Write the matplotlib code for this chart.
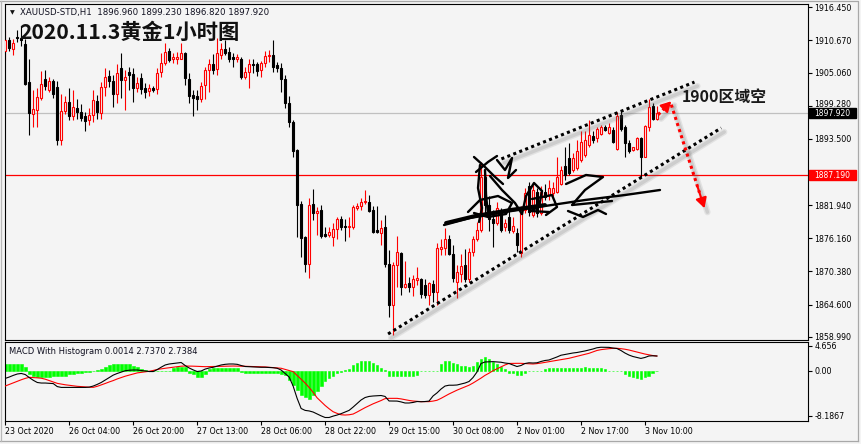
import matplotlib
matplotlib.use("Agg")
import matplotlib.pyplot as plt
import matplotlib.transforms as mtransforms
from matplotlib.patches import Rectangle
from matplotlib.lines import Line2D
import numpy as np

plt.rcParams['font.family'] = ['DejaVu Sans']

W, H = 861, 444
BG = '#f4f4f4'

# ---------------- data (H1 candles, bar index 0 = 23 Oct 2020) ----------------
opens = [1908.8,1910.7,1909.2,1911.2,1911.1,1910.0,1903.4,1897.8,1898.5,1900.7,
 1903.9,1902.0,1903.6,1902.6,1893.3,1898.4,1900.0,1897.4,1898.9,1898.1,
 1897.4,1896.8,1897.66,1900.1,1897.96,1902.6,1904.5,1903.6,1901.4,1905.8,
 1903.8,1905.1,1904.8,1902.3,1904.1,1902.4,1901.8,1902.3,1902.2,1905.1,
 1906.7,1908.8,1907.4,1907.4,1907.5,1908.4,1903.9,1901.2,1900.9,1900.4,
 1902.9,1905.5,1906.5,1905.7,1908.2,1909.2,1908.7,1907.8,1907.5,1907.4,
 1904.3,1905.2,1906.6,1906.5,1905.5,1906.7,1908.0,1908.2,1906.3,1905.9,
 1903.9,1899.7,1896.5,1891.6,1882.1,1876.3,1871.6,1882.1,1880.5,1881.0,
 1876.9,1876.7,1876.3,1877.7,1879.5,1878.3,1878.1,1878.2,1881.4,1881.7,
 1882.4,1882.5,1881.1,1877.6,1877.1,1878.1,1871.7,1864.5,1871.5,1873.6,
 1867.7,1868.3,1867.6,1868.9,1869.0,1868.0,1866.3,1868.2,1866.8,1874.2,
 1874.4,1876.0,1873.4,1868.6,1869.9,1871.5,1869.0,1873.8,1876.0,1877.6,
 1886.9,1882.0,1879.5,1878.8,1880.8,1878.2,1879.9,1877.5,1877.0,1873.5,
 1881.1,1885.2,1880.2,1884.3,1880.5,1884.3,1883.7,1884.1,1884.3,1885.7,
 1888.7,1890.1,1888.1,1888.4,1889.8,1890.7,1892.4,1894.0,1893.6,1894.3,
 1895.6,1894.6,1895.0,1891.7,1897.7,1895.6,1892.7,1891.6,1891.7,1893.6,
 1890.4,1895.6,1899.2,1896.96]
highs = [1912.5,1911.3,1910.9,1912.5,1913.1,1911.0,1907.5,1902.0,1902.3,1905.3,
 1905.5,1904.3,1904.0,1903.6,1901.4,1900.9,1902.4,1902.0,1900.4,1899.6,
 1898.1,1898.9,1902.0,1901.2,1903.4,1905.9,1905.5,1904.6,1906.6,1908.5,
 1905.5,1906.1,1905.9,1904.2,1905.0,1903.2,1903.0,1902.8,1905.8,1908.5,
 1910.2,1909.4,1908.4,1908.6,1910.2,1908.6,1904.9,1902.0,1902.0,1903.5,
 1906.1,1907.5,1908.3,1911.1,1910.2,1910.7,1909.5,1908.4,1908.3,1907.7,
 1906.0,1907.5,1907.5,1906.9,1907.0,1908.8,1909.0,1910.7,1906.9,1906.7,
 1904.6,1900.9,1896.8,1891.7,1882.6,1876.6,1883.1,1884.8,1881.6,1882.0,
 1878.1,1878.2,1878.8,1879.9,1880.0,1879.5,1879.9,1882.0,1882.3,1883.1,
 1884.6,1883.7,1881.7,1881.7,1879.3,1880.2,1874.1,1872.0,1876.6,1873.8,
 1872.2,1869.4,1869.8,1871.2,1869.2,1869.0,1868.6,1868.8,1875.3,1876.1,
 1877.9,1876.8,1875.0,1871.5,1873.4,1874.2,1874.4,1876.6,1879.0,1889.5,
 1887.6,1883.5,1881.0,1882.5,1881.4,1879.5,1881.7,1879.9,1877.9,1881.7,
 1884.9,1886.0,1885.5,1884.9,1885.2,1885.7,1886.3,1886.0,1890.4,1888.7,
 1892.1,1892.7,1891.0,1893.3,1894.8,1894.8,1896.8,1894.8,1895.6,1895.9,
 1895.9,1896.2,1895.6,1898.2,1898.5,1895.9,1893.3,1892.1,1893.8,1893.9,
 1895.9,1900.4,1899.7,1899.23]
lows = [1907.3,1908.8,1908.2,1910.4,1909.7,1902.9,1894.2,1895.6,1895.6,1900.3,
 1902.0,1901.7,1900.6,1892.4,1892.4,1897.9,1896.8,1896.8,1896.9,1896.6,
 1894.9,1895.9,1896.5,1896.9,1896.9,1901.0,1902.6,1899.1,1899.8,1900.6,
 1898.5,1902.0,1900.0,1901.7,1901.3,1900.6,1900.9,1901.6,1901.3,1904.3,
 1906.3,1906.9,1906.7,1906.5,1907.4,1902.9,1899.7,1897.5,1898.6,1900.0,
 1900.4,1901.7,1904.8,1904.6,1907.4,1908.2,1906.9,1906.1,1906.9,1903.9,
 1903.9,1902.3,1904.9,1904.5,1904.2,1906.1,1906.9,1905.1,1905.1,1901.7,
 1898.9,1895.6,1890.4,1876.3,1872.9,1870.3,1869.2,1879.3,1876.7,1876.2,
 1876.3,1876.4,1874.8,1876.1,1877.6,1875.6,1876.4,1877.7,1881.0,1881.0,
 1882.2,1880.8,1877.0,1877.0,1875.0,1871.2,1862.5,1859.3,1867.7,1866.3,
 1867.4,1866.7,1866.0,1868.0,1865.7,1865.7,1864.5,1865.0,1864.5,1873.3,
 1873.3,1873.3,1868.6,1865.7,1868.6,1868.6,1868.6,1873.1,1875.6,1877.3,
 1880.5,1877.5,1874.7,1878.5,1877.3,1877.5,1877.0,1877.0,1873.8,1872.9,
 1880.5,1880.0,1879.8,1879.9,1880.2,1882.8,1882.8,1883.5,1884.0,1885.4,
 1886.3,1887.2,1887.8,1888.1,1889.5,1890.4,1892.1,1892.7,1893.0,1894.2,
 1894.8,1894.3,1892.7,1891.6,1894.8,1890.4,1891.0,1891.4,1891.6,1886.9,
 1890.4,1894.8,1896.7,1896.82]
closes = [1910.7,1909.3,1910.3,1911.1,1910.7,1903.0,1897.96,1898.7,1900.85,1903.0,
 1902.7,1903.6,1901.3,1893.3,1898.4,1899.9,1897.4,1899.1,1898.1,1897.2,
 1896.6,1897.7,1900.3,1898.1,1902.6,1904.3,1903.6,1901.4,1904.9,1903.8,
 1904.3,1904.6,1902.3,1903.2,1902.2,1901.7,1902.4,1902.0,1904.9,1906.7,
 1908.6,1907.2,1907.7,1907.7,1908.4,1904.1,1901.0,1900.7,1900.4,1902.7,
 1905.5,1906.5,1905.5,1908.4,1909.2,1908.4,1907.5,1907.5,1907.8,1904.3,
 1905.2,1906.5,1906.4,1905.3,1906.7,1908.0,1908.2,1906.1,1905.9,1904.0,
 1899.7,1896.4,1891.4,1882.0,1876.2,1871.6,1882.0,1880.5,1880.9,1876.6,
 1876.6,1877.3,1877.7,1879.5,1878.2,1878.1,1878.3,1881.6,1881.7,1882.4,
 1882.6,1880.9,1877.3,1877.2,1877.9,1871.7,1864.5,1871.5,1873.8,1867.7,
 1868.2,1867.6,1869.0,1869.2,1866.4,1866.3,1868.3,1866.8,1874.4,1874.6,
 1876.0,1873.4,1869.2,1870.2,1871.3,1869.0,1873.8,1876.0,1877.6,1886.9,
 1882.0,1879.5,1878.8,1881.4,1877.6,1878.8,1877.6,1878.3,1875.0,1881.1,
 1884.0,1880.8,1884.6,1880.5,1884.3,1883.4,1884.9,1884.9,1886.9,1888.1,
 1887.2,1887.5,1890.1,1891.3,1893.0,1893.3,1894.2,1893.3,1895.3,1895.6,
 1895.0,1895.6,1893.0,1897.5,1895.3,1892.7,1891.3,1892.0,1893.6,1890.4,
 1895.7,1899.0,1896.96,1897.92]

macd_main = [-1.35,-1.1,-0.8,-0.55,-0.45,-0.65,-1.2,-1.7,-2.1,-2.2,
 -2.2,-2.25,-2.3,-2.85,-3.0,-3.0,-3.0,-3.0,-3.0,-3.0,
 -3.0,-2.95,-2.75,-2.45,-2.1,-1.65,-1.2,-0.75,-0.45,-0.2,
 0.05,0.14,0.18,0.18,0.1,0.0,-0.1,-0.1,0.25,0.7,
 1.1,1.28,1.38,1.46,1.55,1.0,0.55,0.2,-0.1,0.0,
 0.35,0.55,0.68,0.9,1.1,1.22,1.28,1.28,1.22,1.0,
 0.82,0.78,0.73,0.68,0.68,0.68,0.64,0.6,0.5,0.18,
 -0.45,-1.1,-2.75,-5.0,-6.85,-7.2,-7.3,-7.5,-7.85,-8.2,
 -8.5,-8.5,-8.25,-8.05,-7.8,-7.5,-7.2,-6.6,-5.95,-5.3,
 -4.85,-4.65,-4.57,-4.52,-4.48,-4.65,-5.48,-5.5,-5.5,-5.65,
 -5.85,-5.85,-5.75,-5.58,-5.62,-5.58,-5.5,-4.57,-4.0,-3.3,
 -2.75,-2.6,-2.6,-2.56,-2.38,-2.2,-1.92,-1.2,-0.18,1.37,
 1.65,1.69,1.71,1.65,1.6,1.46,1.37,1.1,0.82,1.0,
 1.37,1.5,1.46,1.5,1.74,1.92,2.01,2.28,2.56,2.88,
 3.02,3.15,3.29,3.38,3.52,3.66,3.84,4.02,4.25,4.34,
 4.34,4.32,4.2,4.11,3.75,3.29,2.92,2.65,2.47,2.3,
 2.47,2.74,2.78,2.737]
macd_signal = [-2.74,-2.45,-2.15,-1.85,-1.6,-1.35,-1.16,-1.2,-1.25,-1.32,
 -1.5,-1.75,-2.0,-2.26,-2.4,-2.52,-2.62,-2.74,-2.8,-2.86,
 -2.92,-2.96,-2.99,-2.8,-2.55,-2.28,-2.0,-1.75,-1.45,-1.2,
 -0.95,-0.75,-0.55,-0.35,-0.25,-0.15,-0.05,0.1,0.28,0.4,
 0.5,0.6,0.7,0.8,0.88,0.91,0.9,0.88,0.85,0.82,
 0.79,0.8,0.82,0.84,0.86,0.88,0.9,0.91,0.9,0.88,
 0.86,0.84,0.82,0.8,0.78,0.74,0.68,0.62,0.56,0.5,
 0.3,0.1,-0.12,-0.8,-1.5,-2.2,-3.0,-3.9,-4.9,-5.6,
 -6.3,-6.9,-7.44,-7.75,-8.0,-8.05,-8.0,-7.87,-7.5,-7.1,
 -6.7,-6.35,-6.0,-5.7,-5.4,-5.05,-5.0,-5.0,-5.0,-5.1,
 -5.25,-5.38,-5.49,-5.55,-5.6,-5.6,-5.6,-5.5,-5.35,-5.0,
 -4.6,-4.2,-3.85,-3.5,-3.2,-2.9,-2.6,-2.2,-1.75,-1.3,
 -0.8,-0.4,0.05,0.4,0.75,1.1,1.38,1.4,1.4,1.4,
 1.36,1.32,1.28,1.35,1.45,1.58,1.71,1.83,1.95,2.07,
 2.2,2.32,2.5,2.68,2.86,3.04,3.23,3.48,3.75,3.9,
 4.0,4.08,4.14,4.15,4.08,3.98,3.84,3.65,3.45,3.25,
 3.1,2.95,2.82,2.7384]
macd_hist = [1.28,1.28,1.28,1.28,1.25,0.67,-0.5,-1.0,-1.05,-1.05,
 -1.05,-1.05,-1.0,-0.95,-0.92,-0.9,-0.6,-0.5,-0.4,-0.3,
 -0.1,-0.1,-0.05,0.15,0.45,0.75,1.1,1.2,1.25,1.25,
 1.2,1.2,0.9,0.65,0.4,0.2,0.05,0.02,0.02,0.03,
 0.03,0.05,0.6,0.75,0.8,0.8,-0.35,-0.6,-1.05,-1.15,
 -0.5,0.3,0.5,0.55,0.6,0.6,0.6,0.55,0.5,-0.1,
 -0.3,-0.3,-0.3,-0.3,-0.3,-0.3,-0.3,-0.3,-0.3,-0.5,
 -0.8,-1.6,-2.5,-3.4,-4.3,-4.7,-5.2,-4.4,-3.6,-2.7,
 -1.9,-1.2,-0.9,-0.4,-0.1,0.15,0.3,1.1,1.5,1.85,
 1.9,1.9,1.5,1.1,0.6,0.1,-0.9,-0.9,-0.9,-0.85,
 -0.9,-0.9,-0.85,-0.8,-0.05,-0.05,0.02,0.02,0.05,1.3,
 1.8,1.75,1.45,1.2,1.0,0.85,0.8,1.0,1.6,2.2,
 2.5,2.2,1.6,1.3,0.8,0.3,-0.3,-0.35,-0.65,-0.7,
 -0.4,-0.05,-0.03,0.03,0.05,0.45,0.5,0.55,0.6,0.6,
 0.6,0.6,0.6,0.6,0.6,0.65,0.6,0.6,0.55,0.5,
 0.4,0.05,0.03,0.03,0.03,-0.6,-0.95,-1.1,-1.25,-1.45,
 -1.1,-0.85,-0.4,0.0014]

price_ticks = [1916.45, 1910.67, 1905.06, 1899.28, 1893.50,
               1881.94, 1876.16, 1870.38, 1864.60, 1858.99]
time_tick_bars = [0, 16, 32, 48, 64, 80, 96, 112, 128, 144, 160]
time_tick_labels = ['23 Oct 2020', '26 Oct 04:00', '26 Oct 20:00', '27 Oct 13:00',
                    '28 Oct 06:00', '28 Oct 22:00', '29 Oct 15:00', '30 Oct 08:00',
                    '2 Nov 01:00', '2 Nov 17:00', '3 Nov 10:00']
macd_ticks = [4.656, 0.0, -8.1867]
macd_tick_labels = ['4.656', '0.00', '-8.1867']

bid_price = 1897.92
level_price = 1887.19
header = 'XAUUSD-STD,H1  1896.960 1899.230 1896.820 1897.920'
title = '2020.11.3黄金1小时图'
note = '1900区域空'
macd_label = 'MACD With Histogram 0.0014 2.7370 2.7384'

# trend-line anchors (bar index, price)
upper_channel_bars = [124.1, 172.4]
upper_channel_prices = [1890.0, 1903.4]
lower_channel_bars = [95.75, 179.1]
lower_channel_prices = [1859.46, 1895.4]
arrow1_bars = [163.3, 166.6]
arrow1_prices = [1897.7, 1900.05]
arrow2_bars = [166.6, 174.9]
arrow2_prices = [1899.45, 1881.4]

# ---------------- figure ----------------
fig = plt.figure(figsize=(W / 100, H / 100), dpi=100, facecolor=BG)

def rect(l, t, r, b):
    return [l / W, 1 - b / H, (r - l) / W, (b - t) / H]

ax = fig.add_axes(rect(4.5, 4, 808, 340))
mx = fig.add_axes(rect(4.5, 342, 808, 421))

n = len(closes)
x = np.arange(n)
o = np.array(opens); c = np.array(closes)
hi = np.array(highs); lo = np.array(lows)
up = c >= o

for a in (ax, mx):
    a.set_facecolor(BG)
    a.set_xlim(-0.2, 200.8)
    for s in a.spines.values():
        s.set_linewidth(0.8)
        s.set_color('black')

# candles
wick_cols = np.where(up, 'red', 'black')
ax.vlines(x, lo, hi, colors=wick_cols, linewidth=0.8, zorder=2)
body_bot = np.minimum(o, c)
body_h = np.maximum(np.abs(c - o), 0.06)
ax.bar(x[up], body_h[up], bottom=body_bot[up], width=0.55, facecolor=BG,
       edgecolor='red', linewidth=0.8, zorder=3)
ax.bar(x[~up], body_h[~up], bottom=body_bot[~up], width=0.55, facecolor='black',
       edgecolor='black', linewidth=0.8, zorder=3)

ax.set_ylim(1858.41, 1917.02)
ax.yaxis.tick_right()
ax.set_yticks(price_ticks)
ax.set_yticklabels(['%.3f' % p for p in price_ticks])
ax.tick_params(axis='y', direction='out', length=3, width=0.8, pad=1.5,
               labelsize=5.7, colors='black')
ax.set_xticks([])
# the 1899.280 label sits just above the bid box on the scale
lift = mtransforms.ScaledTranslation(0, 2.5 / 100, fig.dpi_scale_trans)
for tk in ax.yaxis.get_major_ticks():
    if abs(tk.get_loc() - 1899.28) < 0.01:
        tk.label2.set_transform(tk.label2.get_transform() + lift)

# horizontal lines
ax.axhline(bid_price, color='#c0c0c0', linewidth=0.9, zorder=1)
ax.axhline(level_price, color='red', linewidth=0.9, zorder=1)

# price boxes on the scale
bt = mtransforms.blended_transform_factory(ax.transAxes, ax.transData)
box_h = 10 * (1917.02 - 1858.41) / 336
for price, col in ((bid_price, 'black'), (level_price, 'red')):
    ax.add_patch(Rectangle((1.0015, price - box_h / 2), 0.0578, box_h, transform=bt,
                           facecolor=col, edgecolor=col, clip_on=False, zorder=5))
    ax.text(1.0305, price, '%.3f' % price, transform=bt, ha='center', va='center',
            color='white', fontsize=5.5, clip_on=False, zorder=6)

# soft drop shadow transforms (down-right), two layers for a blurred look
shadow_trs = [(ax.transData + mtransforms.ScaledTranslation(3 / 100, -4 / 100, fig.dpi_scale_trans), 4.5, 0.12),
              (ax.transData + mtransforms.ScaledTranslation(3 / 100, -4 / 100, fig.dpi_scale_trans), 2.5, 0.16)]

def draw_shadow(bx, py):
    for tr, lw, al in shadow_trs:
        ax.plot(bx, py, color='#606060', linewidth=lw, alpha=al, transform=tr,
                solid_capstyle='round', zorder=6, clip_on=False)

# channel lines
for bx, py in ((upper_channel_bars, upper_channel_prices),
               (lower_channel_bars, lower_channel_prices)):
    draw_shadow(bx, py)
    ax.plot(bx, py, color='black', linewidth=2.2, linestyle=(0, (1, 1.1)),
            dash_capstyle='butt', zorder=7, clip_on=False)

# red arrows
for bx, py in ((arrow1_bars, arrow1_prices), (arrow2_bars, arrow2_prices)):
    draw_shadow(bx, py)
    ax.plot(bx[:1] + [bx[0] + 0.85 * (bx[1] - bx[0])],
            py[:1] + [py[0] + 0.85 * (py[1] - py[0])],
            color='red', linewidth=2.2, linestyle=(0, (1, 1.1)), zorder=8)
    ax.annotate('', xy=(bx[1], py[1]),
                xytext=(bx[0] + 0.8 * (bx[1] - bx[0]), py[0] + 0.8 * (py[1] - py[0])),
                arrowprops=dict(arrowstyle='-|>,head_length=0.6,head_width=0.33',
                                color='red', linewidth=1.5, shrinkA=0, shrinkB=0),
                zorder=8)

# signature-like watermark strokes (decoration, figure pixel space)
sig_thick = [
    [(446, 223), (475, 216), (510, 210), (545, 205)],
]
sig_strokes = [
    [(444, 225), (470, 218), (505, 212), (545, 206), (585, 200), (625, 195), (660, 190)],
    [(474, 157), (484, 166), (494, 176), (503, 184)],
    [(476, 172), (488, 162), (497, 156)],
    [(497, 160), (505, 170), (512, 158), (508, 178), (516, 170)],
    [(480, 165), (478, 188), (482, 208), (479, 222)],
    [(485, 170), (486, 195), (488, 214)],
    [(490, 176), (502, 190), (515, 203), (522, 214)],
    [(468, 212), (480, 200), (498, 196), (512, 203), (506, 214), (488, 217), (474, 213)],
    [(522, 214), (526, 196), (534, 183), (542, 191), (539, 207), (530, 211), (549, 212)],
    [(532, 199), (552, 195), (557, 207), (546, 215)],
    [(566, 184), (586, 175), (603, 177), (585, 190), (572, 205), (592, 203), (612, 201)],
    [(568, 211), (583, 217), (598, 210), (606, 214)],
]
for st, lw in [(s, 2.8) for s in sig_thick] + [(s, 1.7) for s in sig_strokes]:
    xs = [p[0] / W for p in st]
    ys = [1 - p[1] / H for p in st]
    fig.add_artist(Line2D(xs, ys, color='black', linewidth=lw, solid_capstyle='round',
                          solid_joinstyle='round', zorder=9))

# texts
fig.text(12 / W, 1 - 12.8 / H, '▼', fontsize=4.5, va='center', ha='center', color='#111')
fig.text(20 / W, 1 - 12.8 / H, header, fontsize=6.2, va='center', color='#101020')
fig.text(19 / W, 1 - 39.3 / H, title, fontsize=15.3, fontweight='bold', va='baseline',
         color='#111111', family=['Noto Sans CJK SC', 'DejaVu Sans'])
fig.text(681.5 / W, 1 - 101.8 / H, note, fontsize=11.4, fontweight='bold', va='baseline',
         color='#1a1a1a', family=['Noto Sans CJK SC', 'DejaVu Sans'], zorder=10)

# ---------------- MACD panel ----------------
mx.bar(x, macd_hist, width=0.7, color='#00ff00', edgecolor='#00ff00', linewidth=0.4,
       zorder=2)
mx.plot(x, macd_signal, color='red', linewidth=0.8, zorder=3)
mx.plot(x, macd_main, color='black', linewidth=0.8, zorder=4)
mx.set_ylim(-9.14, 5.30)
mx.yaxis.tick_right()
mx.set_yticks(macd_ticks)
mx.set_yticklabels(macd_tick_labels)
mx.tick_params(axis='y', direction='out', length=3, width=0.8, pad=1.5,
               labelsize=5.7, colors='black')
mx.set_xticks(time_tick_bars)
mx.set_xticklabels(time_tick_labels)
for lbl in mx.get_xticklabels():
    lbl.set_horizontalalignment('left')
mx.tick_params(axis='x', direction='out', length=3, width=0.8, pad=1.5,
               labelsize=5.7, colors='black')
fig.text(9 / W, 1 - 351.5 / H, macd_label, fontsize=6.0, va='center', color='#101020')

# window frame
fig.add_artist(Line2D([0, 858 / W, 858 / W], [1 - 1.5 / H, 1 - 1.5 / H, 1 - 441 / H],
                      color='#a8a8a8', linewidth=0.9))
fig.add_artist(Line2D([0, 858 / W], [1 - 441 / H, 1 - 441 / H], color='#a8a8a8',
                      linewidth=0.9))
fig.add_artist(Line2D([1 / W, 1 / W], [1 - 1.5 / H, 1 - 441 / H], color='#b8b8b8',
                      linewidth=0.9))

fig.savefig('out.png', dpi=100, facecolor=BG)
